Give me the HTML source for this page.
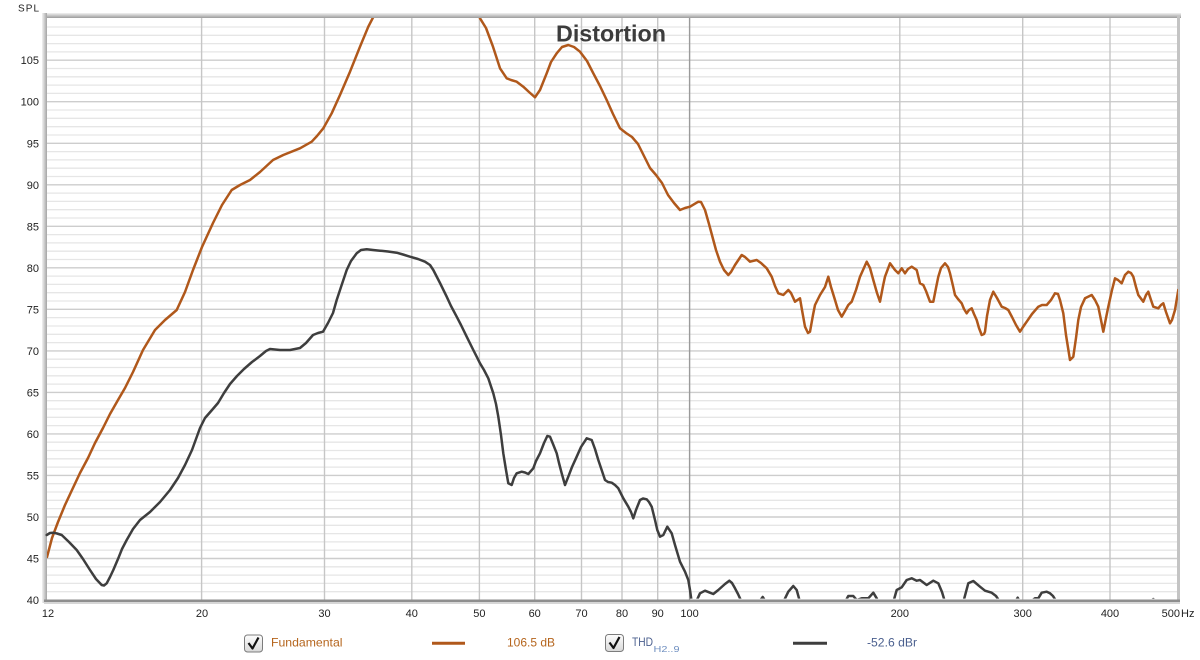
<!DOCTYPE html>
<html><head><meta charset="utf-8"><style>
html,body{margin:0;padding:0;background:#fff;}
svg{display:block;}
text{font-family:"Liberation Sans",sans-serif;}
</style></head><body>
<svg width="1200" height="660" viewBox="0 0 1200 660" xmlns="http://www.w3.org/2000/svg">
<defs>
<linearGradient id="tg" x1="0" y1="0" x2="0" y2="1"><stop offset="0" stop-color="#f2f2f2"/><stop offset="1" stop-color="#9c9c9c"/></linearGradient>
<linearGradient id="lg" x1="0" y1="0" x2="1" y2="0"><stop offset="0" stop-color="#f2f2f2"/><stop offset="1" stop-color="#a4a4a4"/></linearGradient>
<linearGradient id="cb" x1="0" y1="0" x2="0" y2="1"><stop offset="0" stop-color="#fdfdfd"/><stop offset="1" stop-color="#d8d8d8"/></linearGradient>
<clipPath id="pc"><rect x="47" y="18" width="1131" height="583"/></clipPath>
<clipPath id="pc2"><rect x="44" y="18" width="1134" height="580.6"/></clipPath>
</defs>
<rect width="1200" height="660" fill="#fff"/>
<!-- frame -->
<rect x="43" y="13" width="1138" height="5" fill="url(#tg)"/>
<rect x="42" y="13" width="5" height="590" fill="url(#lg)"/>
<rect x="1177" y="16" width="3" height="586" fill="#c4c4c4"/>
<rect x="47" y="18" width="1130" height="582" fill="#fff"/>
<!-- horizontal grid -->
<g stroke="#e6e6e6" stroke-width="1.3">
<line x1="47" x2="1177" y1="591.7" y2="591.7"/><line x1="47" x2="1177" y1="583.4" y2="583.4"/><line x1="47" x2="1177" y1="575.1" y2="575.1"/><line x1="47" x2="1177" y1="566.8" y2="566.8"/>
<line x1="47" x2="1177" y1="550.2" y2="550.2"/><line x1="47" x2="1177" y1="541.9" y2="541.9"/><line x1="47" x2="1177" y1="533.6" y2="533.6"/><line x1="47" x2="1177" y1="525.3" y2="525.3"/>
<line x1="47" x2="1177" y1="508.6" y2="508.6"/><line x1="47" x2="1177" y1="500.3" y2="500.3"/><line x1="47" x2="1177" y1="492.0" y2="492.0"/><line x1="47" x2="1177" y1="483.7" y2="483.7"/>
<line x1="47" x2="1177" y1="467.1" y2="467.1"/><line x1="47" x2="1177" y1="458.8" y2="458.8"/><line x1="47" x2="1177" y1="450.5" y2="450.5"/><line x1="47" x2="1177" y1="442.2" y2="442.2"/>
<line x1="47" x2="1177" y1="425.6" y2="425.6"/><line x1="47" x2="1177" y1="417.3" y2="417.3"/><line x1="47" x2="1177" y1="409.0" y2="409.0"/><line x1="47" x2="1177" y1="400.7" y2="400.7"/>
<line x1="47" x2="1177" y1="384.1" y2="384.1"/><line x1="47" x2="1177" y1="375.8" y2="375.8"/><line x1="47" x2="1177" y1="367.5" y2="367.5"/><line x1="47" x2="1177" y1="359.2" y2="359.2"/>
<line x1="47" x2="1177" y1="342.6" y2="342.6"/><line x1="47" x2="1177" y1="334.3" y2="334.3"/><line x1="47" x2="1177" y1="326.0" y2="326.0"/><line x1="47" x2="1177" y1="317.6" y2="317.6"/>
<line x1="47" x2="1177" y1="301.0" y2="301.0"/><line x1="47" x2="1177" y1="292.7" y2="292.7"/><line x1="47" x2="1177" y1="284.4" y2="284.4"/><line x1="47" x2="1177" y1="276.1" y2="276.1"/>
<line x1="47" x2="1177" y1="259.5" y2="259.5"/><line x1="47" x2="1177" y1="251.2" y2="251.2"/><line x1="47" x2="1177" y1="242.9" y2="242.9"/><line x1="47" x2="1177" y1="234.6" y2="234.6"/>
<line x1="47" x2="1177" y1="218.0" y2="218.0"/><line x1="47" x2="1177" y1="209.7" y2="209.7"/><line x1="47" x2="1177" y1="201.4" y2="201.4"/><line x1="47" x2="1177" y1="193.1" y2="193.1"/>
<line x1="47" x2="1177" y1="176.5" y2="176.5"/><line x1="47" x2="1177" y1="168.2" y2="168.2"/><line x1="47" x2="1177" y1="159.9" y2="159.9"/><line x1="47" x2="1177" y1="151.6" y2="151.6"/>
<line x1="47" x2="1177" y1="135.0" y2="135.0"/><line x1="47" x2="1177" y1="126.7" y2="126.7"/><line x1="47" x2="1177" y1="118.3" y2="118.3"/><line x1="47" x2="1177" y1="110.0" y2="110.0"/>
<line x1="47" x2="1177" y1="93.4" y2="93.4"/><line x1="47" x2="1177" y1="85.1" y2="85.1"/><line x1="47" x2="1177" y1="76.8" y2="76.8"/><line x1="47" x2="1177" y1="68.5" y2="68.5"/>
<line x1="47" x2="1177" y1="51.9" y2="51.9"/><line x1="47" x2="1177" y1="43.6" y2="43.6"/><line x1="47" x2="1177" y1="35.3" y2="35.3"/><line x1="47" x2="1177" y1="27.0" y2="27.0"/>
</g>
<g stroke="#cdcdcd" stroke-width="1.4">
<line x1="47" x2="1177" y1="558.5" y2="558.5"/><line x1="47" x2="1177" y1="517.0" y2="517.0"/><line x1="47" x2="1177" y1="475.4" y2="475.4"/><line x1="47" x2="1177" y1="433.9" y2="433.9"/>
<line x1="47" x2="1177" y1="392.4" y2="392.4"/><line x1="47" x2="1177" y1="350.9" y2="350.9"/><line x1="47" x2="1177" y1="309.3" y2="309.3"/><line x1="47" x2="1177" y1="267.8" y2="267.8"/>
<line x1="47" x2="1177" y1="226.3" y2="226.3"/><line x1="47" x2="1177" y1="184.8" y2="184.8"/><line x1="47" x2="1177" y1="143.3" y2="143.3"/><line x1="47" x2="1177" y1="101.7" y2="101.7"/>
<line x1="47" x2="1177" y1="60.2" y2="60.2"/>
</g>
<!-- vertical grid -->
<g stroke="#c6c6c6" stroke-width="1.4">
<line y1="18" y2="600" x1="201.6" x2="201.6"/><line y1="18" y2="600" x1="324.5" x2="324.5"/><line y1="18" y2="600" x1="411.8" x2="411.8"/>
<line y1="18" y2="600" x1="479.4" x2="479.4"/><line y1="18" y2="600" x1="534.7" x2="534.7"/><line y1="18" y2="600" x1="581.5" x2="581.5"/>
<line y1="18" y2="600" x1="622.0" x2="622.0"/><line y1="18" y2="600" x1="657.7" x2="657.7"/>
<line y1="18" y2="600" x1="899.8" x2="899.8"/><line y1="18" y2="600" x1="1022.7" x2="1022.7"/><line y1="18" y2="600" x1="1110.0" x2="1110.0"/>
</g>
<line y1="18" y2="600" x1="689.6" x2="689.6" stroke="#9a9a9a" stroke-width="1.4"/>
<!-- curves -->
<g fill="none" stroke-linejoin="round" stroke-linecap="round" stroke-width="2.5">
<polyline clip-path="url(#pc)" stroke="#b0581b" points="47,557 52,538 58,522 65,505 72,490 80,473 88,458 95,443 103,428 110,414 118,400 125,388 133,372 143,350 155,330 165,320 176.7,310 185,292 193,270 202,247 213,223 222,205 231.7,190 240,185 250,180 260,172 273,160 283.3,155 300,148.3 311.7,141.7 317,136 323.3,128.3 331.7,113.3 340,95 350,71.7 360,46.7 368.3,26.7 373.3,17 376,10 477,10 480,18.3 486,28 493,46.7 500,68.3 506.7,78.3 511,80 516.7,81.7 523.3,86.7 529,92 535,97.3 540,90 546.7,73.3 551,62 556.7,53.3 562,47 568.3,45 574,47 580,51.7 587,61 593.3,73.3 600,86 606.7,100 613,114 620,128.3 626,133 632,137 638,144 644,156 650,168 656,175 662,183 668,195 674,203 680,210 685,208 690,206.7 698.3,201.7 701,202 705,210 709,224 713.3,240 716,250 720,261.7 724,270 728.3,275 731,272 735,265 741.7,255 745,257 750,261.7 756.7,260 761,263 766.7,268.3 771.7,276.7 775,286 778.3,293.3 783.3,295 788.3,290 791,293 795,301.7 800,298.3 802,310 805,326.7 808,333 810,331.7 813,315 815,305 820,295 825,287 828.3,276.7 831,287 835,300 838,310 841.7,316.7 845,311 848.3,305 851.7,301.7 856,290 860,276.7 866.7,261.7 870,268 873.3,280 877,293 880,301.7 883,286 885,276.7 890,263.3 895,270 898.3,273.3 901.7,268.3 905,273.3 908,269 911.7,266.7 916.7,270 920,283.3 923.3,285 926,291 930,301.7 933.3,301.7 936,288 938.3,276.7 941,268 945,263.3 948,267 950,273.3 953,286 955,295 958,299 961.7,303.3 964,309 966.7,313.3 969,310 971.7,308.3 974,314 976.7,320 979,328 981.7,335 984,334 985,331.7 987,316 990,300 993.3,291.7 997,298 1001.7,306.7 1005,308 1008.3,310 1012,317 1016,325 1020,331.7 1023,327 1026.7,321.7 1032,314 1038.3,306.7 1042,305 1046.7,305 1051,300 1055,293.3 1058,294 1060,300 1063.3,313.3 1066,335 1070,360 1073.3,356.7 1076,338 1078.3,320 1081,307 1085,298.3 1091.7,295 1095,300 1098.3,306.7 1101,320 1103.3,331.7 1106,318 1108.3,306.7 1112,290 1115,278.3 1118,280 1121.7,283.3 1125,275 1128.3,271.7 1131,273 1133.3,276.7 1136,287 1138.3,295 1143.3,301.7 1146,295 1148.3,291.7 1151,300 1153.3,306.7 1158.3,308.3 1161,305 1163.3,303.3 1166,312 1170,323.3 1172,320 1175,310 1178.3,290"/>
<polyline clip-path="url(#pc2)" stroke="#3e3e3e" points="46.7,535 50,533 53.3,532.7 57,533.5 61.7,535 69,542 76.7,550 83,559 90,570 96,579 101.7,585 104,585.5 106.7,583.3 110,577 113.3,570 118.3,558.3 122,549 126.7,540 133,529 140,520 150,512 160,502 170,490 178,478 185,465 192,450 200,428 205,418 212,410 218,403 224,393 230,384 237,376 244,369 252,362 260,356 266,351 270,349 275,349.5 280,350 290,350 300,348 306,343 313,335 318,333 323,331.7 328,323 333,313 336.7,300 341,287 346.7,270 351,261 356.7,253.3 361,250 366.7,249.3 373,250 380,250.7 388,251.5 396.7,252.7 403,254.5 410,256.7 418,259 425,261.7 430,265 433.3,270 440,283 446.7,296.7 451,306 456.7,316.7 461,325 466.7,336.7 473.3,350 476.7,356.7 480,363.3 484,370 488.3,378.3 493.3,393.3 496,404 498.3,416.7 501,435 503.3,453.3 506,470 508.3,483.3 511.7,485 514,478 516.7,473.3 521.7,471.7 525,472.5 528.3,474 533.3,468.3 536,461 540,453.3 544,443 547.3,436 550,436.7 553,444 556.7,453.3 559,463 561.7,473.3 565,485 568.3,476.7 572,467 576.7,456.7 581,447 586.7,438.3 591.7,440 595,449 598.3,460 602,471 605,480 608,482 611.7,482.7 615,485 618.3,488.3 623.3,498.3 628.3,506.7 631,512 633.3,518.3 636,510 640,500 643,498.5 646.7,499.3 649,502 651.7,506.7 655,520 657.3,530 660,536.7 663.3,535 667.3,526.7 671.7,533.3 675,545 680,561.7 685,571.7 688.3,580 690,590 691.7,602 696,602 700,593.3 705,590.7 710,592.7 713.3,594 718.3,590 725,584 729.3,580.7 732,583 735,588.3 738,594 741.7,602 759,602 762.7,597 766,602 783.3,602 788.3,591.7 793.3,586 796.7,590 800,602 845,602 848.3,596 853.3,596 856.7,600 861.7,598.3 868.3,598.3 873.3,592.7 876.7,598.3 878.3,602 893.3,602 896.7,590 901.7,587.3 906.7,580 911.7,578.3 916.7,580.7 920,580 926.7,585 933.3,580.7 938.3,583.3 942,592 945,602 963.3,602 968.3,583.3 973.3,581 980,586.7 985,590.7 991.7,592.7 996,596 1000,602 1015,602 1017.7,597.7 1020,602 1030,602 1035,598.3 1038.3,598.3 1041.7,592.7 1046.7,591.7 1050,593.3 1053,596 1056.7,602 1150,602 1153.3,599 1156.7,602 1178,602"/>
</g>
<!-- bottom axis -->
<rect x="44" y="599.5" width="1136" height="2.5" fill="#8e8e8e"/>
<rect x="44" y="602" width="1136" height="2" fill="#d6d6d6"/>
<!-- title -->
<text x="556" y="41.7" font-size="23" font-weight="bold" fill="#3c3c3c" textLength="110" lengthAdjust="spacingAndGlyphs">Distortion</text>
<!-- y labels -->
<text x="18" y="11.7" font-size="10" fill="#222" textLength="21" lengthAdjust="spacing">SPL</text>
<g font-size="11" fill="#222" text-anchor="end">
<text x="39" y="64.2">105</text><text x="39" y="105.7">100</text><text x="39" y="147.3">95</text><text x="39" y="188.8">90</text>
<text x="39" y="230.3">85</text><text x="39" y="271.8">80</text><text x="39" y="313.3">75</text><text x="39" y="354.9">70</text>
<text x="39" y="396.4">65</text><text x="39" y="437.9">60</text><text x="39" y="479.4">55</text><text x="39" y="521">50</text>
<text x="39" y="562.5">45</text><text x="39" y="604">40</text>
</g>
<!-- x labels -->
<g font-size="11" fill="#222" text-anchor="middle">
<text x="48" y="617">12</text><text x="202" y="617">20</text><text x="324.5" y="617">30</text><text x="411.8" y="617">40</text>
<text x="479.4" y="617">50</text><text x="534.7" y="617">60</text><text x="581.5" y="617">70</text><text x="622" y="617">80</text>
<text x="657.7" y="617">90</text><text x="689.6" y="617">100</text><text x="899.8" y="617">200</text><text x="1022.7" y="617">300</text>
<text x="1110" y="617">400</text>
</g>
<text x="1180" y="617" font-size="11" fill="#222" text-anchor="end">500</text>
<text x="1181" y="617" font-size="11" fill="#222">Hz</text>
<!-- legend -->
<rect x="244.5" y="635" width="18" height="17" rx="3" fill="url(#cb)" stroke="#7c7c7c" stroke-width="1"/>
<path d="M248.5,643 L252.5,648.5 L258.5,637.5" fill="none" stroke="#111" stroke-width="2.2" stroke-linejoin="round"/>
<text x="271" y="646.5" font-size="12" fill="#b5651d" textLength="71.5" lengthAdjust="spacingAndGlyphs">Fundamental</text>
<line x1="432" x2="465" y1="643.3" y2="643.3" stroke="#b0581b" stroke-width="3"/>
<text x="507" y="646.5" font-size="12" fill="#b5651d" textLength="48" lengthAdjust="spacingAndGlyphs">106.5 dB</text>
<rect x="605.5" y="634.5" width="18" height="17" rx="3" fill="url(#cb)" stroke="#7c7c7c" stroke-width="1"/>
<path d="M609.5,642.5 L613.5,648 L619.5,637" fill="none" stroke="#111" stroke-width="2.2" stroke-linejoin="round"/>
<text x="632" y="646" font-size="12" fill="#4a5f8e" textLength="21" lengthAdjust="spacingAndGlyphs">THD</text>
<text x="653.5" y="652" font-size="8" fill="#6f8fc0" textLength="26" lengthAdjust="spacingAndGlyphs">H2..9</text>
<line x1="793" x2="827" y1="643.3" y2="643.3" stroke="#3e3e3e" stroke-width="3"/>
<text x="867" y="646.5" font-size="12" fill="#4a5f8e" textLength="50" lengthAdjust="spacingAndGlyphs">-52.6 dBr</text>
</svg>
</body></html>
